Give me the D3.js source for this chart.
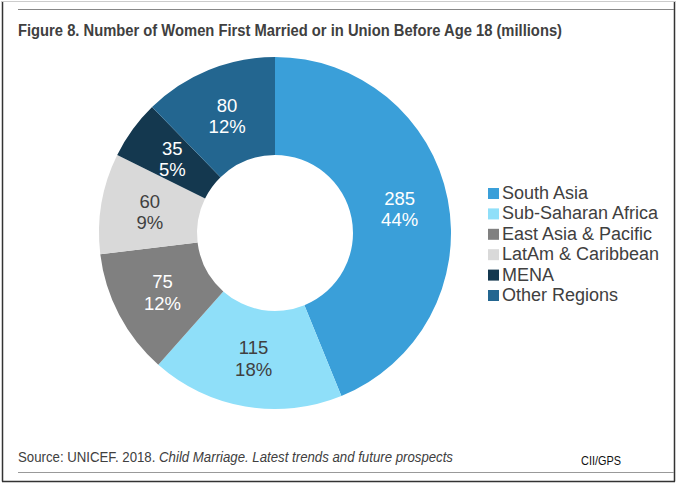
<!DOCTYPE html>
<html>
<head>
<meta charset="utf-8">
<script src="https://cdn.jsdelivr.net/npm/d3@7"></script>
<style>
  html, body { margin: 0; padding: 0; background: #fff; }
  svg { display: block; font-family: "Liberation Sans", Arial, sans-serif; }
</style>
</head>
<body>
<svg id="chart" width="676" height="483"></svg>
<script>
// Data
const regions = ["South Asia", "Sub-Saharan Africa", "East Asia & Pacific", "LatAm & Caribbean", "MENA", "Other Regions"];
const values  = [285, 115, 75, 60, 35, 80];
const colors  = ["#3a9fd9", "#8fdff9", "#808080", "#d9d9d9", "#14384f", "#236690"];
const labelColors = ["#fff", "#404040", "#fff", "#404040", "#fff", "#fff"];

const title  = "Figure 8. Number of Women First Married or in Union Before Age 18 (millions)";
const source = "Source: UNICEF. 2018. ";
const sourceItalic = "Child Marriage. Latest trends and future prospects";
const credit = "CII/GPS";

const svg = d3.select("#chart");

// frame
svg.append("line").attr("x1", 2.5).attr("x2", 2.5).attr("y1", 1).attr("y2", 481.5)
  .attr("stroke", "#333").attr("stroke-width", 1.5);
svg.append("line").attr("x1", 674.5).attr("x2", 674.5).attr("y1", 1).attr("y2", 481.5)
  .attr("stroke", "#333").attr("stroke-width", 1.5);
svg.append("line").attr("x1", 2).attr("x2", 675).attr("y1", 481.5).attr("y2", 481.5)
  .attr("stroke", "#333").attr("stroke-width", 1.5);
svg.append("line").attr("x1", 2).attr("x2", 675).attr("y1", 1.5).attr("y2", 1.5)
  .attr("stroke", "#ccc").attr("stroke-width", 1);

// rules
svg.append("line").attr("x1", 18).attr("x2", 674).attr("y1", 9.5).attr("y2", 9.5)
  .attr("stroke", "#888").attr("stroke-width", 1.2);
svg.append("line").attr("x1", 18).attr("x2", 674).attr("y1", 472.5).attr("y2", 472.5)
  .attr("stroke", "#999").attr("stroke-width", 1.2);

// title
svg.append("text")
  .attr("x", 18).attr("y", 36)
  .attr("font-size", 16).attr("font-weight", "bold").attr("fill", "#404040")
  .attr("textLength", 544).attr("lengthAdjust", "spacingAndGlyphs")
  .text(title);

// donut
const cx = 275, cy = 233, outerR = 176, innerR = 78;
const g = svg.append("g").attr("transform", `translate(${cx},${cy})`);

const pie = d3.pie().sort(null).value(d => d);
const arcs = pie(values);
const arc = d3.arc().innerRadius(innerR).outerRadius(outerR);
const total = d3.sum(values);
const pct = d3.format(".0%");

g.selectAll("path.slice")
  .data(arcs)
  .join("path")
  .attr("class", "slice")
  .attr("d", arc)
  .attr("fill", (d, i) => colors[i]);

const labels = g.selectAll("text.lbl")
  .data(arcs)
  .join("text")
  .attr("class", "lbl")
  .attr("transform", d => `translate(${arc.centroid(d)})`)
  .attr("text-anchor", "middle")
  .attr("font-size", 18.5)
  .attr("fill", (d, i) => labelColors[i]);

labels.append("tspan").attr("x", 0).attr("dy", "-0.2em").text(d => d.data);
labels.append("tspan").attr("x", 0).attr("dy", "1.15em").text(d => pct(d.data / total));

// legend
const legend = svg.append("g").attr("transform", "translate(488,199)");
const rowH = 20.4;
const items = legend.selectAll("g")
  .data(regions)
  .join("g")
  .attr("transform", (d, i) => `translate(0,${i * rowH})`);
items.append("rect")
  .attr("x", 0).attr("y", -11).attr("width", 11).attr("height", 11)
  .attr("fill", (d, i) => colors[i]);
items.append("text")
  .attr("x", 14).attr("y", 0)
  .attr("font-size", 18).attr("fill", "#404040")
  .text(d => d);

// source
const src = svg.append("text")
  .attr("x", 18).attr("y", 462)
  .attr("font-size", 14).attr("fill", "#404040")
  .attr("textLength", 435).attr("lengthAdjust", "spacingAndGlyphs");
src.append("tspan").text(source);
src.append("tspan").attr("font-style", "italic").text(sourceItalic);

svg.append("text")
  .attr("x", 581).attr("y", 465)
  .attr("font-size", 12).attr("fill", "#111")
  .attr("textLength", 40).attr("lengthAdjust", "spacingAndGlyphs")
  .text(credit);
</script>
</body>
</html>
